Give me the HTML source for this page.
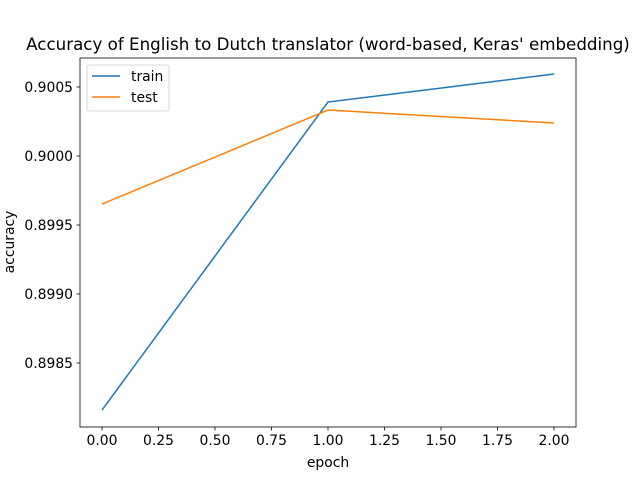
<!DOCTYPE html>
<html><head><meta charset="utf-8"><style>body{margin:0;background:#fff}svg{font-family:"DejaVu Sans","Liberation Sans",sans-serif}</style></head>
<body>
<svg id="c" width="640" height="480" xmlns="http://www.w3.org/2000/svg"></svg>
<script>
const epochs=[0,1,2];
const trainAcc=[0.898159,0.900391,0.900594];
const testAcc=[0.899652,0.900333,0.900239];
const xTicks=[0,0.25,0.5,0.75,1.0,1.25,1.5,1.75,2.0];
const xTickLabels=["0.00","0.25","0.50","0.75","1.00","1.25","1.50","1.75","2.00"];
const yTicks=[0.8985,0.899,0.8995,0.9,0.9005];
const yTickLabels=["0.8985","0.8990","0.8995","0.9000","0.9005"];
const L=80,R=576,T=58,B=427;
const X=v=>102+(v-0)*(554-102)/2;
const Y=v=>156-(v-0.9)/0.0005*69;
const svg=document.getElementById('c');
const NS='http://www.w3.org/2000/svg';
function mk(t,a,p){const e=document.createElementNS(NS,t);for(const k in a)e.setAttribute(k,a[k]);(p||svg).appendChild(e);return e;}
let e;
e=mk('rect',{x:L,y:T,width:R-L,height:B-T,fill:'none',stroke:'#000','stroke-width':0.8});


xTicks.forEach((v,i)=>{
 e=mk('line',{x1:X(v),x2:X(v),y1:B,y2:B+3.5,stroke:'#000','stroke-width':0.8});
 
 
 e=mk('text',{x:X(v),y:B+18,'font-size':13.9,'text-anchor':'middle'});e.textContent=xTickLabels[i];
 
 
});
yTicks.forEach((v,i)=>{
 e=mk('line',{x1:L-3.5,x2:L,y1:Y(v),y2:Y(v),stroke:'#000','stroke-width':0.8});
 
 
 e=mk('text',{x:L-7,y:Y(v)+5,'font-size':13.9,'text-anchor':'end'});e.textContent=yTickLabels[i];
 
 
});
function line(d,c,n){e=mk('polyline',{points:epochs.map((x,i)=>X(x)+','+Y(d[i])).join(' '),fill:'none',stroke:c,'stroke-width':1.5});
 
 }
line(trainAcc,'#1f77b4','train-line');
line(testAcc,'#ff7f0e','test-line');
e=mk('text',{x:328,y:50,'font-size':16.7,'text-anchor':'middle'});e.textContent="Accuracy of English to Dutch translator (word-based, Keras' embedding)";


e=mk('text',{x:328,y:467,'font-size':13.9,'text-anchor':'middle'});e.textContent='epoch';


e=mk('text',{x:0,y:0,'font-size':13.9,'text-anchor':'middle',transform:'translate(14,242) rotate(-90)'});e.textContent='accuracy';


const g=mk('g',{});


mk('rect',{x:87,y:65,width:82,height:46,rx:2,fill:'#fff',stroke:'#ccc','stroke-width':0.8},g);
[['train','#1f77b4',76],['test','#ff7f0e',97]].forEach(([n,c,y])=>{
 e=mk('line',{x1:92,x2:120,y1:y,y2:y,stroke:c,'stroke-width':1.5},g);
 
 
 e=mk('text',{x:131,y:y+5,'font-size':13.9},g);e.textContent=n;
 
 
});
</script>
</body></html>
